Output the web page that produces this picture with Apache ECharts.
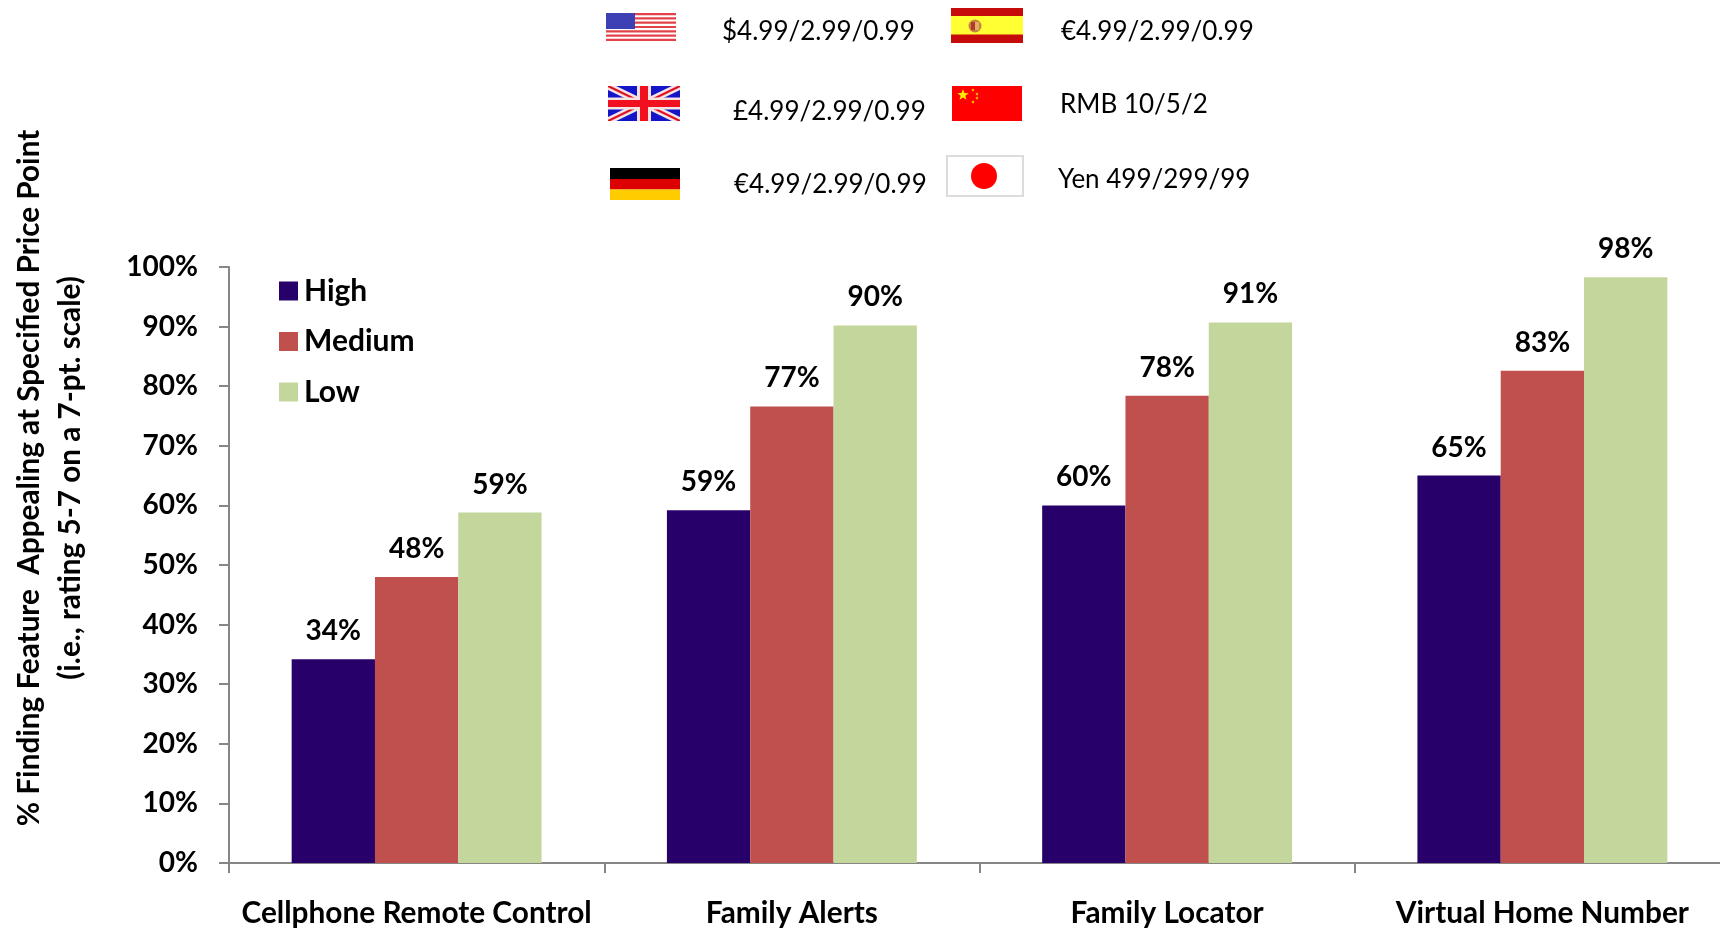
<!DOCTYPE html>
<html>
<head>
<meta charset="utf-8">
<title>Feature appeal by price point</title>
<script src="https://cdn.jsdelivr.net/npm/echarts@6/dist/echarts.min.js"></script>
<style>
  html, body { margin: 0; padding: 0; background: #fff; }
  #chart { width: 1720px; height: 929px; }
</style>
</head>
<body>
<div id="chart"></div>
<script>
  var categories = ['Cellphone Remote Control', 'Family Alerts', 'Family Locator', 'Virtual Home Number']
  var high = [34.2, 59.2, 60, 65]
  var medium = [48, 76.6, 78.4, 82.6]
  var low = [58.8, 90.2, 90.7, 98.3]
  var yTicks = { min: 0, max: 100, step: 10 }
  var yTitle = '% Finding Feature  Appealing at Specified Price Point'
  var ySubTitle = '(i.e., rating 5-7 on a 7-pt. scale)'
  var priceUS = '$4.99/2.99/0.99'
  var priceES = '€4.99/2.99/0.99'
  var priceUK = '£4.99/2.99/0.99'
  var priceCN = 'RMB 10/5/2'
  var priceDE = '€4.99/2.99/0.99'
  var priceJP = 'Yen 499/299/99'

  var font = 'Lato, "Noto Sans", sans-serif'

  function rect (x, y, w, h, fill) {
    return { type: 'rect', shape: { x: x, y: y, width: w, height: h }, style: { fill: fill }, silent: true }
  }
  function poly (points, fill) {
    return { type: 'polygon', shape: { points: points }, style: { fill: fill }, silent: true }
  }
  function line (x1, y1, x2, y2, color, width) {
    return { type: 'line', shape: { x1: x1, y1: y1, x2: x2, y2: y2 }, style: { stroke: color, lineWidth: width }, silent: true }
  }
  function star (cx, cy, r, fill) {
    var pts = []
    for (var i = 0; i < 10; i++) {
      var a = -Math.PI / 2 + i * Math.PI / 5
      var d = i % 2 ? r * 0.4 : r
      pts.push([cx + d * Math.cos(a), cy + d * Math.sin(a)])
    }
    return poly(pts, fill)
  }
  function priceText (x, cy, text) {
    return {
      type: 'text',
      x: x,
      y: cy,
      silent: true,
      style: { text: text, fill: '#000', font: '26px ' + font, verticalAlign: 'middle', textAlign: 'left' }
    }
  }
  function sideText (x, cy, text) {
    return {
      type: 'text',
      x: x,
      y: cy,
      rotation: Math.PI / 2,
      silent: true,
      style: { text: text, fill: '#000', font: 'bold 29.7px ' + font, verticalAlign: 'middle', textAlign: 'center' }
    }
  }

  function flagUS () {
    var out = [rect(606, 13, 70, 29, '#fff')]
    for (var i = 0; i < 7; i++) {
      out.push(rect(606, 13 + i * 4.3, 70, 2.2, '#e3424a'))
    }
    out.push(rect(606, 13, 29, 16, '#3d3fb5'))
    return out
  }
  function flagES () {
    return [
      rect(951, 8, 72, 35, '#c60b0b'),
      rect(951, 16, 72, 18.5, '#ffff33'),
      { type: 'circle', shape: { cx: 975, cy: 26, r: 6.5 }, style: { fill: '#c8843f' }, silent: true },
      rect(971, 22, 4, 8, '#b03a2e'),
      rect(975, 22, 4, 8, '#e0b060')
    ]
  }
  function flagUK () {
    var x = 608, y = 86, w = 72, h = 35
    return [
      rect(x, y, w, h, '#1414c8'),
      line(x, y, x + w, y + h, '#f3e3e3', 7),
      line(x + w, y, x, y + h, '#f3e3e3', 7),
      line(x, y, x + w, y + h, '#e01020', 2),
      line(x + w, y, x, y + h, '#e01020', 2),
      rect(x + w / 2 - 7, y, 14, h, '#f3e3e3'),
      rect(x, y + h / 2 - 6, w, 12, '#f3e3e3'),
      rect(x + w / 2 - 4, y, 8, h, '#f01020'),
      rect(x, y + h / 2 - 3.5, w, 7, '#f01020'),
      rect(x - 4, y - 4, w + 8, 4, '#fff'),
      rect(x - 4, y + h, w + 8, 4, '#fff'),
      rect(x - 4, y, 4, h, '#fff'),
      rect(x + w, y, 4, h, '#fff')
    ]
  }
  function flagCN () {
    return [
      rect(952, 86, 70, 35, '#ff0000'),
      star(963, 95, 6, '#ffee00'),
      star(973, 90, 1.8, '#ffee00'),
      star(977, 94, 1.8, '#ffee00'),
      star(977, 98, 1.8, '#ffee00'),
      star(973, 102, 1.8, '#ffee00')
    ]
  }
  function flagDE () {
    return [
      rect(610, 168, 70, 11, '#000'),
      rect(610, 179, 70, 10.5, '#dd0000'),
      rect(610, 189.5, 70, 10.5, '#ffcc00')
    ]
  }
  function flagJP () {
    return [
      {
        type: 'rect',
        shape: { x: 947, y: 156, width: 76, height: 40 },
        style: { fill: '#fff', stroke: '#dcdcdc', lineWidth: 2 },
        silent: true
      },
      { type: 'circle', shape: { cx: 984, cy: 176, r: 13 }, style: { fill: '#ff0000' }, silent: true }
    ]
  }

  var mychart = echarts.init(document.getElementById('chart'))

  function barSeries (name, values, color) {
    return {
      name: name,
      type: 'bar',
      barGap: 0,
      barCategoryGap: '33.4%',
      itemStyle: { color: color },
      label: {
        show: true,
        position: 'top',
        distance: 14,
        color: '#000',
        fontFamily: font,
        fontWeight: 'bold',
        fontSize: 28,
        formatter: function (p) { return Math.round(p.value) + '%' }
      },
      data: values
    }
  }

  var option = {
    animation: false,
    backgroundColor: '#fff',
    grid: { left: 229, top: 267, width: 1501, height: 596, outerBoundsMode: 'none' },
    legend: {
      left: 279,
      top: 276,
      padding: 0,
      orient: 'vertical',
      icon: 'rect',
      itemWidth: 19,
      itemHeight: 19,
      itemGap: 20.5,
      textStyle: { color: '#000', fontFamily: font, fontWeight: 'bold', fontSize: 30, lineHeight: 30, padding: [0, 0, 0, 1] },
      data: ['High', 'Medium', 'Low']
    },
    xAxis: {
      type: 'category',
      data: categories,
      axisLine: { lineStyle: { color: '#868686', width: 2 } },
      axisTick: { show: true, length: 10, lineStyle: { color: '#868686', width: 2 } },
      axisLabel: { color: '#000', fontFamily: font, fontWeight: 'bold', fontSize: 29.8, margin: 35, interval: 0 },
      splitLine: { show: false }
    },
    yAxis: {
      type: 'value',
      min: yTicks.min,
      max: yTicks.max,
      interval: yTicks.step,
      axisLine: { show: true, lineStyle: { color: '#868686', width: 2 } },
      axisTick: { show: true, length: 10, lineStyle: { color: '#868686', width: 2 } },
      axisLabel: { color: '#000', fontFamily: font, fontWeight: 'bold', fontSize: 28, margin: 31, formatter: '{value}%' },
      splitLine: { show: false }
    },
    series: [
      barSeries('High', high, '#280069'),
      barSeries('Medium', medium, '#c0504d'),
      barSeries('Low', low, '#c3d69b')
    ],
    graphic: [].concat(
      flagUS(), flagES(), flagUK(), flagCN(), flagDE(), flagJP(),
      [
        priceText(722, 32, priceUS),
        priceText(1061, 32, priceES),
        priceText(733, 112, priceUK),
        priceText(1060, 105, priceCN),
        priceText(734, 185, priceDE),
        priceText(1058, 180, priceJP)
      ],
      [
        sideText(29, 478, yTitle),
        sideText(70, 478, ySubTitle)
      ]
    )
  }
  mychart.setOption(option)
</script>
</body>
</html>
